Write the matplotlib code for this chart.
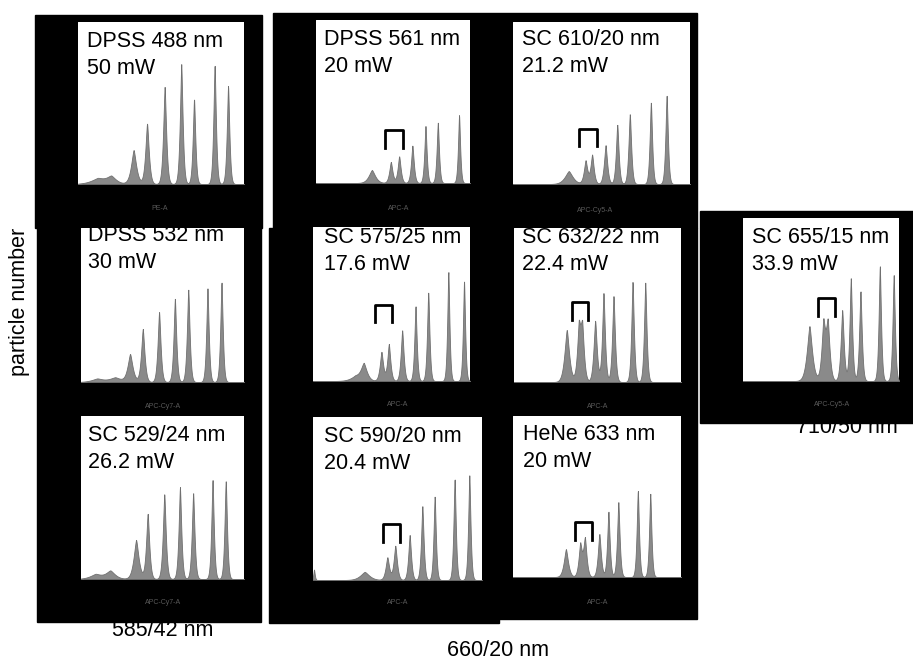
import numpy as np
import matplotlib
matplotlib.use("Agg")
import matplotlib.pyplot as plt
from matplotlib.patches import Rectangle

plt.rcParams['font.family'] = ['Liberation Sans', 'DejaVu Sans']

W, H = 913, 662

# panel text (laser line / power) and channel names
titles = ["DPSS 488 nm", "DPSS 561 nm", "SC 610/20 nm",
          "DPSS 532 nm", "SC 575/25 nm", "SC 632/22 nm",
          "SC 529/24 nm", "SC 590/20 nm", "HeNe 633 nm",
          "SC 655/15 nm"]
powers = ["50 mW", "20 mW", "21.2 mW",
          "30 mW", "17.6 mW", "22.4 mW",
          "26.2 mW", "20.4 mW", "20 mW",
          "33.9 mW"]
channels = ["PE-A", "APC-A", "APC-Cy5-A",
            "APC-Cy7-A", "APC-A", "APC-A",
            "APC-Cy7-A", "APC-A", "APC-A",
            "APC-Cy5-A"]
filters = ["585/42 nm", "660/20 nm", "710/50 nm"]

# peaks: centre (fraction of x range), height (fraction of y range), width
c_488 = [0.12, 0.20, 0.335, 0.416, 0.522, 0.622, 0.699, 0.823, 0.904]
h_488 = [0.035, 0.045, 0.21, 0.375, 0.60, 0.74, 0.53, 0.74, 0.61]
w_488 = [0.06, 0.04, 0.022, 0.015, 0.013, 0.012, 0.011, 0.011, 0.011]

c_561 = [0.363, 0.486, 0.540, 0.626, 0.711, 0.791, 0.929]
h_561 = [0.08, 0.13, 0.165, 0.23, 0.35, 0.37, 0.42]
w_561 = [0.03, 0.015, 0.014, 0.013, 0.011, 0.011, 0.010]

c_610 = [0.315, 0.41, 0.447, 0.523, 0.589, 0.66, 0.779, 0.868]
h_610 = [0.08, 0.145, 0.18, 0.24, 0.37, 0.435, 0.51, 0.555]
w_610 = [0.032, 0.014, 0.013, 0.013, 0.011, 0.011, 0.010, 0.010]

c_532 = [0.10, 0.21, 0.301, 0.379, 0.479, 0.576, 0.658, 0.776, 0.862]
h_532 = [0.022, 0.03, 0.18, 0.345, 0.457, 0.543, 0.603, 0.608, 0.65]
w_532 = [0.05, 0.05, 0.022, 0.015, 0.013, 0.012, 0.012, 0.011, 0.011]

c_575 = [0.27, 0.323, 0.436, 0.483, 0.568, 0.653, 0.734, 0.862, 0.962]
h_575 = [0.03, 0.11, 0.19, 0.24, 0.33, 0.488, 0.583, 0.713, 0.654]
w_575 = [0.045, 0.027, 0.015, 0.014, 0.013, 0.011, 0.011, 0.010, 0.010]

c_632 = [0.316, 0.388, 0.408, 0.486, 0.536, 0.596, 0.71, 0.786]
h_632 = [0.34, 0.33, 0.33, 0.40, 0.58, 0.56, 0.655, 0.645]
w_632 = [0.02, 0.015, 0.015, 0.014, 0.012, 0.012, 0.011, 0.011]

c_529 = [0.09, 0.18, 0.338, 0.409, 0.511, 0.607, 0.688, 0.807, 0.888]
h_529 = [0.03, 0.05, 0.24, 0.40, 0.523, 0.564, 0.53, 0.61, 0.61]
w_529 = [0.05, 0.04, 0.022, 0.014, 0.013, 0.012, 0.012, 0.011, 0.011]

c_590 = [0.006, 0.306, 0.44, 0.487, 0.572, 0.647, 0.72, 0.838, 0.925]
h_590 = [0.065, 0.05, 0.14, 0.21, 0.276, 0.453, 0.516, 0.627, 0.643]
w_590 = [0.006, 0.038, 0.015, 0.014, 0.012, 0.011, 0.010, 0.010, 0.010]

c_633 = [0.315, 0.40, 0.428, 0.514, 0.568, 0.627, 0.743, 0.817]
h_633 = [0.174, 0.2, 0.235, 0.269, 0.407, 0.465, 0.541, 0.52]
w_633 = [0.018, 0.014, 0.014, 0.013, 0.011, 0.011, 0.010, 0.010]

c_655 = [0.426, 0.515, 0.543, 0.636, 0.691, 0.753, 0.877, 0.966]
h_655 = [0.338, 0.34, 0.34, 0.436, 0.631, 0.555, 0.709, 0.652]
w_655 = [0.024, 0.017, 0.017, 0.014, 0.012, 0.012, 0.011, 0.011]

# doublet bracket (x0, x1, y_legs, y_top) in axes fraction, None = no bracket
brackets = [None, (0.449, 0.562, 0.214, 0.327), (0.372, 0.472, 0.232, 0.338),
            None, (0.398, 0.506, 0.38, 0.492), (0.346, 0.446, 0.402, 0.517),
            None, (0.414, 0.515, 0.235, 0.343), (0.368, 0.468, 0.231, 0.341),
            (0.479, 0.589, 0.40, 0.512)]

peaks = [(c_488, h_488, w_488), (c_561, h_561, w_561), (c_610, h_610, w_610),
         (c_532, h_532, w_532), (c_575, h_575, w_575), (c_632, h_632, w_632),
         (c_529, h_529, w_529), (c_590, h_590, w_590), (c_633, h_633, w_633),
         (c_655, h_655, w_655)]

# layout in pixels: white plot boxes, title anchor, channel label position
boxes = [(78, 22, 244, 184), (316, 20, 470, 183), (513, 22, 690, 184),
         (81, 228, 244, 382), (313, 227, 470, 381), (514, 228, 681, 382),
         (81, 416, 244, 579), (313, 417, 482, 580), (513, 416, 681, 577),
         (743, 218, 899, 381)]
title_xy = [(87, 47), (324, 45), (522, 45),
            (88, 241), (324, 243), (522, 243),
            (88, 441), (324, 442), (523, 440),
            (752, 243)]
chan_xy = [(160, 208), (399, 208), (595, 210),
           (163, 407), (398, 405), (598, 406),
           (163, 603), (398, 603), (598, 602),
           (832, 405)]
black_rects = [(35, 15, 262, 228), (37, 228, 261, 622),
               (273, 13, 697, 228), (269, 228, 499, 623), (499, 228, 697, 619),
               (700, 211, 913, 423)]
filter_xy = [(163, 636), (498, 656), (847, 433)]

fig = plt.figure(figsize=(W / 100, H / 100), dpi=100)
bg = fig.add_axes([0, 0, 1, 1])
bg.set_xlim(0, W)
bg.set_ylim(H, 0)
bg.axis("off")

for x0, y0, x1, y1 in black_rects:
    bg.add_patch(Rectangle((x0, y0), x1 - x0, y1 - y0, color="black", zorder=2))

for (x, y), s in zip(filter_xy, filters):
    bg.text(x, y, s, ha="center", va="baseline", fontsize=15.5, zorder=1)

for (x, y), s in zip(chan_xy, channels):
    bg.text(x, y, s, ha="center", va="center", fontsize=5, color="#5a5a5a", zorder=3)

bg.text(20, 302, "particle number", rotation=90, ha="center", va="center", fontsize=15.5)

xs = np.linspace(0, 1, 800)
for i, (x0, y0, x1, y1) in enumerate(boxes):
    ax = fig.add_axes([x0 / W, 1 - y1 / H, (x1 - x0) / W, (y1 - y0) / H])
    c, h, w = peaks[i]
    ys = np.zeros_like(xs)
    for ci, hi, wi in zip(c, h, w):
        ys += hi * np.exp(-(np.abs(xs - ci) / wi) ** 1.4)
    ax.fill_between(xs, 0, ys, facecolor="#8a8a8a", edgecolor="#707070", lw=0.6)
    b = brackets[i]
    if b is not None:
        bx0, bx1, yl, yt = b
        ax.plot([bx0, bx0, bx1, bx1], [yl, yt, yt, yl], color="black", lw=2,
                solid_joinstyle="round", clip_on=False)
    ax.set_xlim(0, 1)
    ax.set_ylim(0, 1)
    ax.axis("off")
    ax.add_patch(Rectangle((0, 0), 1, 1, transform=ax.transAxes, color="white", zorder=-1))

for (x, y), t, p in zip(title_xy, titles, powers):
    fig.text(x / W, 1 - y / H, t, ha="left", va="baseline", fontsize=15.5)
    fig.text(x / W, 1 - (y + 27) / H, p, ha="left", va="baseline", fontsize=15.5)

fig.savefig("out.png", dpi=100)
